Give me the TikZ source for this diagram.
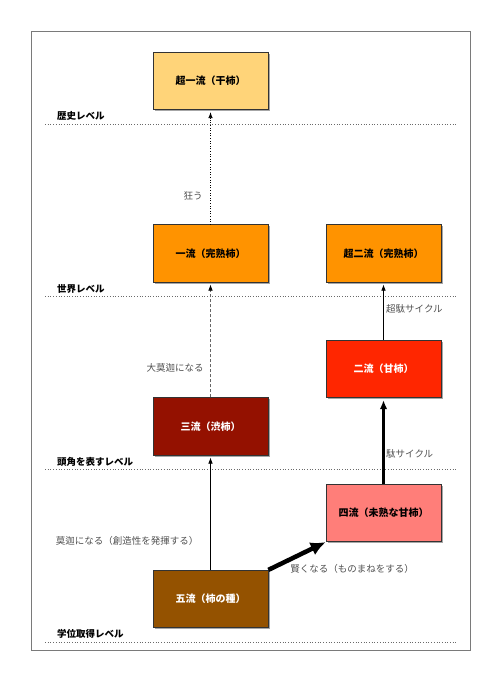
\documentclass[tikz,border=0pt]{standalone}
\usepackage{fontspec}
\setmainfont{Noto Sans CJK JP}
\usetikzlibrary{shadows,arrows.meta}
\definecolor{cantaloupe}{HTML}{FFD479}
\definecolor{tangerine}{HTML}{FF9300}
\definecolor{maraschino}{HTML}{FF2600}
\definecolor{cayenne}{HTML}{941100}
\definecolor{salmon}{HTML}{FF7E79}
\definecolor{mocha}{HTML}{945200}
\definecolor{framegray}{HTML}{7A7A7A}
\definecolor{levelgray}{HTML}{6A6A6A}
\definecolor{labelgray}{HTML}{505050}
\tikzset{
  stagebox/.style={draw=black!80, line width=0.7pt, minimum width=115pt, minimum height=57.5pt,
    inner sep=0pt, font=\fontsize{10}{12}\selectfont\bfseries,
    drop shadow={shadow xshift=1.6pt, shadow yshift=-1.6pt, opacity=0.35, fill=black}},
  levelline/.style={draw=levelgray, line width=0.7pt, dotted},
  levellabel/.style={anchor=west, inner sep=0pt, font=\fontsize{9.5}{11}\selectfont\bfseries},
  edgelabel/.style={inner sep=0pt, text=labelgray, font=\fontsize{9.5}{11}\selectfont},
  thinarrow/.style={-{Latex[length=6pt,width=4.5pt,color=black]}, line width=0.6pt, shorten >=2pt},
  thickarrow/.style={-{Latex[length=9pt,width=7.5pt]}, line width=2.6pt, shorten >=2pt},
  hugearrow/.style={-{Latex[length=15pt,width=14pt]}, line width=4.5pt},
}
\begin{document}
\begin{tikzpicture}[x=1pt,y=-1pt]
\useasboundingbox (0,0) rectangle (500,680);
\draw[framegray, line width=0.9pt] (31,31) rectangle (470,650);

% level lines
\coordinate (l1a) at (45,124);  \coordinate (l1b) at (456,124);
\coordinate (l2a) at (45,296.7);\coordinate (l2b) at (456,296.7);
\coordinate (l3a) at (45,469);  \coordinate (l3b) at (456,469);
\coordinate (l4a) at (45,642);  \coordinate (l4b) at (456,642);
\draw[levelline] (l1a) -- (l1b);
\draw[levelline] (l2a) -- (l2b);
\draw[levelline] (l3a) -- (l3b);
\draw[levelline] (l4a) -- (l4b);
\node[levellabel] (lv1) at (57,116) {歴史レベル};
\node[levellabel] (lv2) at (57,289) {世界レベル};
\node[levellabel] (lv3) at (57,461.7) {頭角を表すレベル};
\node[levellabel] (lv4) at (57,634.3) {学位取得レベル};

% boxes
\node[stagebox, fill=cantaloupe] (chou1) at (210.5,81) {超一流（干柿）};
\node[stagebox, fill=tangerine] (ichi) at (210.5,253.5) {一流（完熟柿）};
\node[stagebox, fill=tangerine] (chou2) at (383.5,253.5) {超二流（完熟柿）};
\node[stagebox, fill=maraschino, text=white] (ni) at (383.5,369) {二流（甘柿）};
\node[stagebox, fill=cayenne, text=white] (san) at (210.5,426.5) {三流（渋柿）};
\node[stagebox, fill=salmon] (yon) at (383.5,513) {四流（未熟な甘柿）};
\node[stagebox, fill=mocha, text=white] (go) at (210.5,599) {五流（柿の種）};

% connectors
\draw[thinarrow, dotted, line width=0.8pt] (ichi) -- (chou1);
\draw[thinarrow, dash pattern=on 3pt off 2pt, draw=black!60] (san) -- (ichi);
\draw[thinarrow] (go) -- (san);
\draw[thinarrow] (ni) -- (chou2);
\draw[thickarrow] (yon) -- (ni);
\draw[hugearrow] (go.north east) -- (yon.south west);

% edge labels
\node[edgelabel] (e1) at (193,196) {狂う};
\node[edgelabel] (e2) at (175,368) {大莫迦になる};
\node[edgelabel] (e3) at (127,541) {莫迦になる（創造性を発揮する）};
\node[edgelabel] (e4) at (352,569) {賢くなる（ものまねをする）};
\node[edgelabel, anchor=west] (e5) at (386,453.5) {駄サイクル};
\node[edgelabel, anchor=west] (e6) at (386,309) {超駄サイクル};
\end{tikzpicture}
\end{document}
